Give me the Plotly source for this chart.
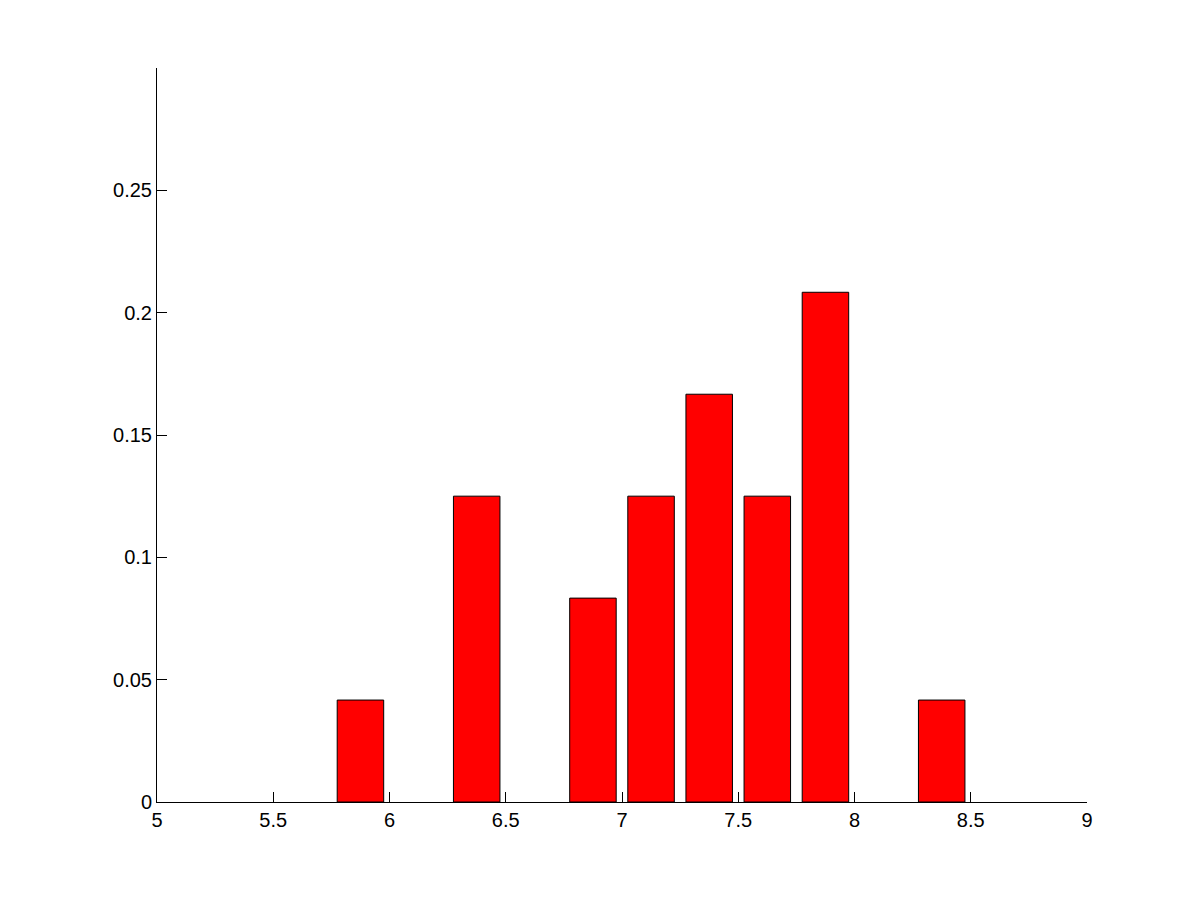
import plotly.graph_objects as go

bin_centers = [5.875, 6.375, 6.875, 7.125, 7.375, 7.625, 7.875, 8.375]
frequencies = [1/24, 3/24, 2/24, 3/24, 4/24, 3/24, 5/24, 1/24]

x_ticks = [5, 5.5, 6, 6.5, 7, 7.5, 8, 8.5, 9]
x_tick_labels = ["5", "5.5", "6", "6.5", "7", "7.5", "8", "8.5", "9"]
y_ticks = [0, 0.05, 0.1, 0.15, 0.2, 0.25]
y_tick_labels = ["0", "0.05", "0.1", "0.15", "0.2", "0.25"]

fig = go.Figure(go.Bar(
    x=bin_centers, y=frequencies, width=0.2,
    marker=dict(color="#ff0000", line=dict(color="black", width=1)),
))

font = dict(family="Liberation Sans, Arial, Helvetica, sans-serif", size=20, color="black")
fig.update_layout(
    width=1193, height=893,
    margin=dict(l=149, r=114, t=60, b=99),
    paper_bgcolor="white", plot_bgcolor="white",
    showlegend=False, font=font,
    xaxis=dict(range=[5, 9], tickvals=x_ticks, ticktext=x_tick_labels,
               showline=True, linecolor="black", linewidth=1,
               ticks="inside", ticklen=10, tickcolor="black", tickwidth=1,
               showgrid=False, zeroline=False, tickfont=font),
    yaxis=dict(range=[0, 0.3], tickvals=y_ticks, ticktext=y_tick_labels,
               showline=True, linecolor="black", linewidth=1,
               ticks="inside", ticklen=10, tickcolor="black", tickwidth=1,
               showgrid=False, zeroline=False, tickfont=font),
)

fig.write_html("out.html")
